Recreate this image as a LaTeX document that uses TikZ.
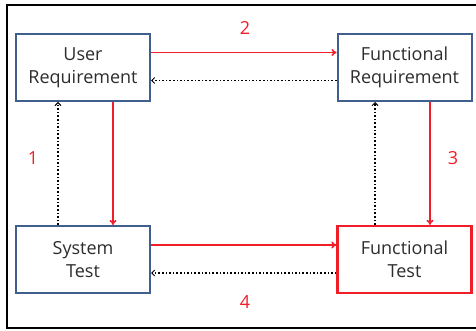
\documentclass[tikz,border=0pt]{standalone}
\usepackage{fontspec}
\setmainfont{Open Sans}
\usepackage{tikz}
\usetikzlibrary{arrows.meta}
\definecolor{boxblue}{RGB}{65,95,140}
\definecolor{flowred}{RGB}{240,30,40}
\definecolor{textgray}{RGB}{45,45,45}
\tikzset{
    stage/.style={draw=boxblue, line width=2pt, fill=white, minimum width=134pt, minimum height=67pt, align=center, text=textgray, font=\fontsize{18}{23}\selectfont}, % 方框
    forward/.style={draw=flowred, line width=1.6pt, -{To[length=5pt,width=7pt]}}, % 红色实线箭头
    backward/.style={draw=black, line width=1.6pt, dotted, -{Straight Barb[length=3pt,width=6pt,line width=1pt]}}, % 虚线箭头
    step label/.style={text=flowred, font=\fontsize{18}{20}\selectfont}
}
\begin{document}
\begin{tikzpicture}[x=1pt, y=-1pt]
            \useasboundingbox (0,0) rectangle (476,331);
            \draw[line width=2pt] (7,5) rectangle (484,328);

            \node[stage] (ur) at (83, 67.5) {User\\Requirement};
            \node[stage] (fr) at (404.5, 67.5) {Functional\\Requirement};
            \node[stage] (st) at (83, 259.5) {System\\Test};
            \node[stage, draw=flowred, line width=2.4pt] (ft) at (404.5, 259.5) {Functional\\Test};

            \draw[forward] ([yshift=15pt]ur.east) -- ([yshift=15pt]fr.west);
            \draw[backward] ([yshift=-13pt]fr.west) -- ([yshift=-13pt]ur.east);
            \draw[forward] ([xshift=30pt]ur.south) -- ([xshift=30pt]st.north);
            \draw[backward] ([xshift=-25pt]st.north) -- ([xshift=-25pt]ur.south);
            \draw[forward] ([xshift=25.5pt]fr.south) -- ([xshift=25.5pt]ft.north);
            \draw[backward] ([xshift=-29.5pt]ft.north) -- ([xshift=-29.5pt]fr.south);
            \draw[forward] ([yshift=14.5pt]st.east) -- ([yshift=14.5pt]ft.west);
            \draw[backward] ([yshift=-13.5pt]ft.west) -- ([yshift=-13.5pt]st.east);

          \foreach \x / \y / \labelText in {
              245/28/2,
              33/158/1,
              453/158/3,
              245/302/4
          } {
              \node[step label] (n\labelText) at (\x, \y) {\labelText};
          }

        \end{tikzpicture}
\end{document}
